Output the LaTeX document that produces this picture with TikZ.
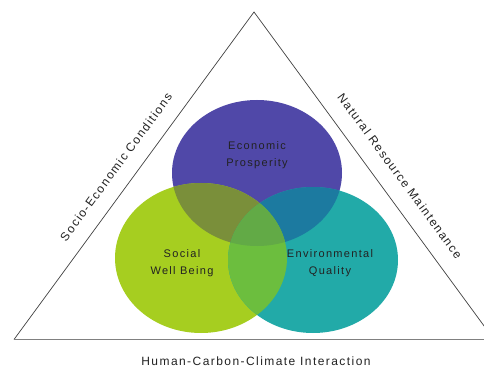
\documentclass[tikz,border=0pt]{standalone}
\usepackage{fontspec}
\setmainfont{Liberation Sans}
\usetikzlibrary{calc}

\definecolor{econblue}{RGB}{80,72,168}
\definecolor{socgreen}{RGB}{166,206,32}
\definecolor{envteal}{RGB}{34,170,168}
\definecolor{mixEB}{RGB}{122,143,58}
\definecolor{mixET}{RGB}{28,122,160}
\definecolor{mixST}{RGB}{108,190,62}
\definecolor{mixAll}{RGB}{98,170,70}
\definecolor{inkgray}{RGB}{34,34,34}

% the three ellipses of the Venn diagram
\def\ellEcon{(257,173) ellipse [x radius=85pt, y radius=73pt]}
\def\ellSoc{(201,258) ellipse [x radius=86pt, y radius=75pt]}
\def\ellEnv{(313,260) ellipse [x radius=85pt, y radius=73pt]}

\begin{document}
\begin{tikzpicture}[x=1pt, y=-1pt,
  sideline/.style={draw=black!75, line width=0.7pt},
  baseline/.style={draw=black!50, line width=1.6pt},
  sidelabel/.style={font=\fontsize{12}{14}\selectfont\addfontfeature{LetterSpace=12}, text=inkgray, inner sep=0pt},
  venlabel/.style={font=\fontsize{11}{17}\selectfont\addfontfeature{LetterSpace=12}, text=inkgray, align=center, inner sep=0pt}]
  \useasboundingbox (0,0) rectangle (484,371);
  \clip (0,0) rectangle (484,371);

  % triangle frame
  \coordinate (apex) at (254,12);
  \coordinate (bl) at (14,339.5);
  \coordinate (br) at (494,339.5);
  \draw[sideline] (bl) -- (apex) -- (br);
  \draw[baseline] (bl) -- (br);

  % circles
  \fill[econblue] \ellEcon;
  \fill[socgreen] \ellSoc;
  \fill[envteal] \ellEnv;
  \begin{scope}
    \clip \ellEcon;
    \fill[mixEB] \ellSoc;
  \end{scope}
  \begin{scope}
    \clip \ellEcon;
    \fill[mixET] \ellEnv;
  \end{scope}
  \begin{scope}
    \clip \ellSoc;
    \fill[mixST] \ellEnv;
  \end{scope}
  \begin{scope}
    \clip \ellEcon;
    \clip \ellSoc;
    \fill[mixAll] \ellEnv;
  \end{scope}

  % circle labels
  \node[venlabel] (econ) at (257,155) {Economic\\Prosperity};
  \node[venlabel] (soc) at (182,263) {Social\\Well Being};
  \node[venlabel] (env) at (330,263) {Environmental\\Quality};

  % side labels
  \node[sidelabel, rotate=53.7] (socio) at (116,167) {Socio-Economic Conditions};
  \node[sidelabel, rotate=-53.7] (natural) at (400,176) {Natural Resource Maintenance};
  \node[sidelabel] (human) at (256,361) {Human-Carbon-Climate Interaction};
\end{tikzpicture}
\end{document}
